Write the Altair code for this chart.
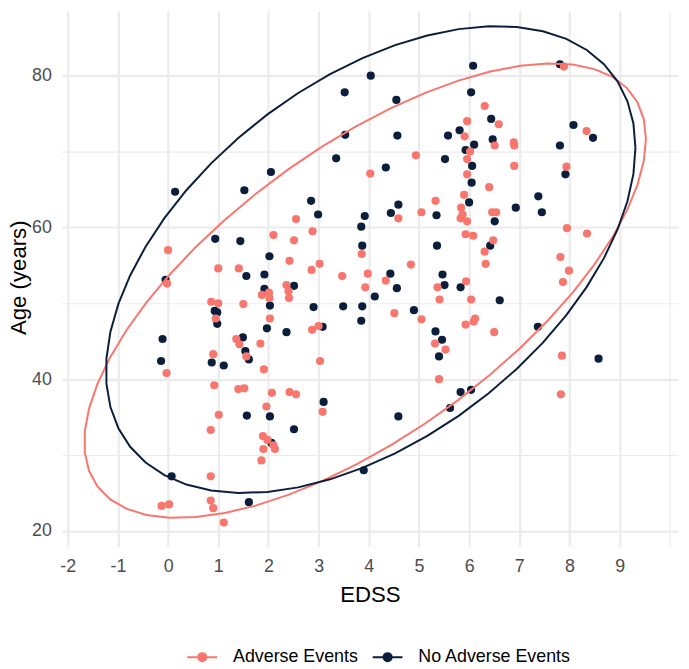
import altair as alt
import pandas as pd
import numpy as np

# ---------------- data ----------------
groups = ["Adverse Events", "No Adverse Events"]
colors = ["#F8766D", "#0B1E3B"]

ae_edss = [0.0, 1.0, 1.41, -0.02, 0.86, 1.0, 0.95, 1.5, -0.03, 0.9, 0.92, 1.4, 1.52, 1.36, 1.42, 1.56, 1.84, 1.01, 0.85, 0.85, 0.85, 0.9, -0.13, 0.02, 1.11,
           2.86, 3.47, 3.98, 1.87, 2.01, 2.02, 2.36, 2.4, 2.41, 3.93, 4.34, 5.37, 5.41, 4.51, 5.05, 2.03, 2.87, 3.0, 3.03, 5.32, 5.53, 5.4, 1.91, 2.07, 2.42, 2.55, 1.96, 3.08, 1.89, 1.98, 2.1, 2.13, 1.9, 1.86,
           5.93, 5.94, 6.04, 6.09, 6.12, 6.5, 7.87, 7.99, 7.85, 7.83,
           5.96, 5.91, 5.96, 4.94, 4.03, 5.96, 2.55, 2.88, 2.51, 2.1, 2.42, 3.02, 3.86, 4.59, 5.05, 5.33, 5.84, 5.83, 5.93, 4.84,
           6.31, 7.89, 8.34, 6.59, 6.51, 6.89, 6.9, 6.02, 6.9, 6.4, 5.9, 5.87, 5.96, 6.46, 6.54, 7.94, 7.95, 8.35, 6.08, 6.48, 6.31, 6.33, 7.82]
ae_age = [57.0, 54.6, 54.6, 52.6, 50.2, 50.0, 48.0, 49.9, 40.8, 43.3, 39.2, 38.7, 38.8, 45.3, 44.6, 43.0, 44.7, 35.3, 33.3, 27.2, 24.0, 23.0, 23.3, 23.5, 21.1,
          54.4, 53.6, 53.9, 51.1, 51.4, 50.7, 52.4, 51.6, 50.7, 52.1, 53.0, 52.1, 50.5, 48.7, 47.9, 48.0, 46.5, 47.0, 42.4, 44.7, 43.9, 40.0, 41.3, 38.2, 38.3, 38.0, 36.4, 35.7, 32.5, 32.0, 31.3, 30.8, 30.8, 29.3,
          47.2, 52.9, 50.5, 47.6, 48.0, 46.2, 52.8, 54.3, 43.1, 38.0,
          74.0, 72.0, 69.0, 69.5, 67.1, 67.0, 61.1, 59.5, 58.3, 59.0, 55.6, 55.2, 56.5, 61.2, 62.0, 63.5, 62.6, 61.2, 59.1, 55.1,
          76.0, 81.2, 72.7, 73.6, 70.8, 71.2, 70.8, 70.0, 68.1, 65.3, 64.3, 61.7, 60.8, 62.0, 62.0, 68.0, 59.9, 59.2, 58.9, 58.3, 56.8, 55.2, 56.1]

nae_edss = [0.14, 1.52, 0.94, 1.44, 1.56, -0.05, 0.93, 0.98, 0.98, -0.11, -0.14, 0.87, 1.11, 1.49, 1.54, 1.61, 1.57, 0.07, 1.61,
            1.92, 4.43, 5.47, 1.92, 2.51, 2.03, 4.12, 4.56, 5.51, 5.83, 2.9, 3.49, 3.87, 4.9, 3.85, 1.97, 2.36, 3.08, 5.33, 5.46, 5.4,
            2.03, 2.51, 3.1, 4.59, 2.06, 3.9, 5.83, 5.62, 6.61, 7.37, 8.58, 6.04,
            4.04, 3.52, 4.55, 3.53, 4.57, 5.58, 5.81, 5.93, 3.35, 5.52, 4.34, 2.05, 2.85, 2.99, 2.02, 3.85, 3.87, 3.92, 4.44, 4.59, 5.35, 5.36,
            6.08, 6.04, 7.81, 8.08, 8.47, 7.81, 6.44, 6.47, 6.1, 6.06, 6.05, 6.0, 6.51, 6.93, 7.38, 7.45, 7.92, 6.42]
nae_age = [64.7, 64.9, 58.5, 58.2, 53.6, 53.1, 49.0, 48.8, 47.3, 45.3, 42.4, 42.2, 41.8, 45.5, 43.7, 42.6, 35.2, 27.2, 23.8,
           53.8, 53.9, 53.8, 51.9, 52.3, 49.7, 50.9, 52.0, 52.4, 52.1, 49.5, 49.6, 49.6, 49.1, 47.7, 46.7, 46.2, 46.9, 46.3, 45.2, 43.0,
           35.1, 33.4, 37.0, 35.1, 31.6, 28.0, 38.3, 36.2, 50.4, 46.9, 42.7, 38.6,
           80.0, 77.8, 76.8, 72.2, 72.1, 72.1, 72.8, 70.2, 69.1, 69.0, 67.9, 67.3, 63.5, 61.7, 56.2, 60.1, 57.6, 61.5, 61.9, 63.0, 61.6, 57.6,
           81.3, 77.8, 81.5, 73.5, 71.8, 70.8, 74.3, 71.6, 70.9, 68.1, 65.9, 63.3, 60.8, 62.6, 64.1, 62.0, 67.0, 57.6]

x_major = list(range(-2, 10))
x_minor = [-1.5, -0.5, 0.5, 1.5, 2.5, 3.5, 4.5, 5.5, 6.5, 7.5, 8.5, 9.5, 10]
y_major = [20, 40, 60, 80]
y_minor = [30, 50, 70]

# ---------------- tables ----------------
pts = pd.concat([
    pd.DataFrame({"EDSS": nae_edss, "Age": nae_age, "group": groups[1]}),
    pd.DataFrame({"EDSS": ae_edss, "Age": ae_age, "group": groups[0]}),
], ignore_index=True)


def cov_trob(X, nu=5, maxit=25, tol=0.01):
    n, p = X.shape
    wt = np.ones(n)
    loc = X.mean(axis=0)
    w = np.sqrt(wt)
    Xc = X - loc
    for _ in range(maxit):
        w0 = w
        Xc = X - loc
        M = np.sqrt(w / w.sum())[:, None] * Xc
        _, d, Vt = np.linalg.svd(M, full_matrices=False)
        wX = Xc @ Vt.T @ np.diag(1.0 / d)
        Q = (wX ** 2).sum(axis=1)
        w = (wt * (nu + p)) / (nu + Q)
        loc = (w[:, None] * X).sum(axis=0) / w.sum()
        if np.all(np.abs(w - w0) < tol):
            break
    sw = np.sqrt(w)[:, None] * Xc
    cov = sw.T @ sw / wt.sum()
    return loc, cov


def stat_ellipse(x, y, level=0.95, segments=51):
    X = np.column_stack([x, y]).astype(float)
    n = X.shape[0]
    center, shape = cov_trob(X)
    R = np.linalg.cholesky(shape).T
    d = n - 1
    qf = d / 2.0 * ((1 - level) ** (-2.0 / d) - 1)
    radius = np.sqrt(2 * qf)
    ang = np.arange(segments + 1) * 2 * np.pi / segments
    circ = np.column_stack([np.cos(ang), np.sin(ang)])
    return center + radius * (circ @ R)


ell_frames = []
for g, xs, ys in [(groups[0], ae_edss, ae_age), (groups[1], nae_edss, nae_age)]:
    e = stat_ellipse(xs, ys)
    ell_frames.append(pd.DataFrame({"EDSS": e[:, 0], "Age": e[:, 1], "group": g, "idx": range(len(e))}))
ell = pd.concat(ell_frames, ignore_index=True)

# ---------------- chart ----------------
FONT = "Liberation Sans"
W, H = 621.7, 540.3

x_scale = alt.Scale(domain=[-2.118, 10.164], nice=False, zero=False)
y_scale = alt.Scale(domain=[17.96, 88.53], nice=False, zero=False)
c_scale = alt.Scale(domain=groups, range=colors)

x_axis = alt.Axis(
    values=sorted(x_major + x_minor), title="EDSS",
    labelExpr="(datum.value % 1 == 0 && datum.value < 9.9) ? toString(datum.value) : ''",
    grid=True, gridColor="#EBEBEB",
    gridWidth={"condition": {"test": "datum.value % 1 != 0 || datum.value > 9.9", "value": 1.1}, "value": 2.2},
    ticks=False, domain=False, labelOverlap=False,
    labelFont=FONT, labelFontSize=18, labelColor="#4D4D4D",
    labelBaseline="alphabetic", labelPadding=25,
    titleFont=FONT, titleFontSize=22.4, titleFontWeight="normal", titleColor="#000000",
    titleX=W / 2, titleY=55.7, titleBaseline="alphabetic", titleAnchor="middle",
)
y_axis = alt.Axis(
    values=sorted(y_major + y_minor), title="Age (years)",
    labelExpr="datum.value % 20 == 0 ? toString(datum.value) : ''",
    grid=True, gridColor="#EBEBEB",
    gridWidth={"condition": {"test": "datum.value % 20 != 0", "value": 1.1}, "value": 2.2},
    ticks=False, domain=False, labelOverlap=False,
    labelFont=FONT, labelFontSize=18, labelColor="#4D4D4D", labelPadding=10.6,
    titleFont=FONT, titleFontSize=22.4, titleFontWeight="normal", titleColor="#000000",
    titleX=-36.8, titleY=268.7, titleBaseline="alphabetic", titleAngle=-90,
)

legend = alt.Legend(
    title=None, orient="none", legendX=125.7, legendY=636, direction="horizontal",
    symbolType="M-1,0L1,0M-0.27,0A0.27,0.27,0,1,1,0.27,0A0.27,0.27,0,1,1,-0.27,0",
    symbolSize=900, symbolStrokeWidth=2, symbolOpacity=1,
    labelFont=FONT, labelFontSize=18, labelColor="#000000",
    labelOffset=15, columnPadding=10,
)

points = alt.Chart(pts).mark_circle(size=68, opacity=1).encode(
    x=alt.X("EDSS:Q", scale=x_scale, axis=x_axis),
    y=alt.Y("Age:Q", scale=y_scale, axis=y_axis),
    color=alt.Color("group:N", scale=c_scale, legend=legend),
)

ellipses = alt.Chart(ell).mark_line(strokeWidth=2).encode(
    x=alt.X("EDSS:Q", scale=x_scale),
    y=alt.Y("Age:Q", scale=y_scale),
    color=alt.Color("group:N", scale=c_scale, legend=legend),
    order="idx:Q",
    detail="group:N",
)

chart = alt.layer(points, ellipses).properties(
    width=W, height=H,
    autosize=alt.AutoSizeParams(type="none"),
    padding={"left": 54.3, "top": 0, "right": 3, "bottom": 120.5},
    background="white",
).configure_view(stroke=None)

chart.save("out.html", embed_options={"renderer": "svg", "actions": False})
